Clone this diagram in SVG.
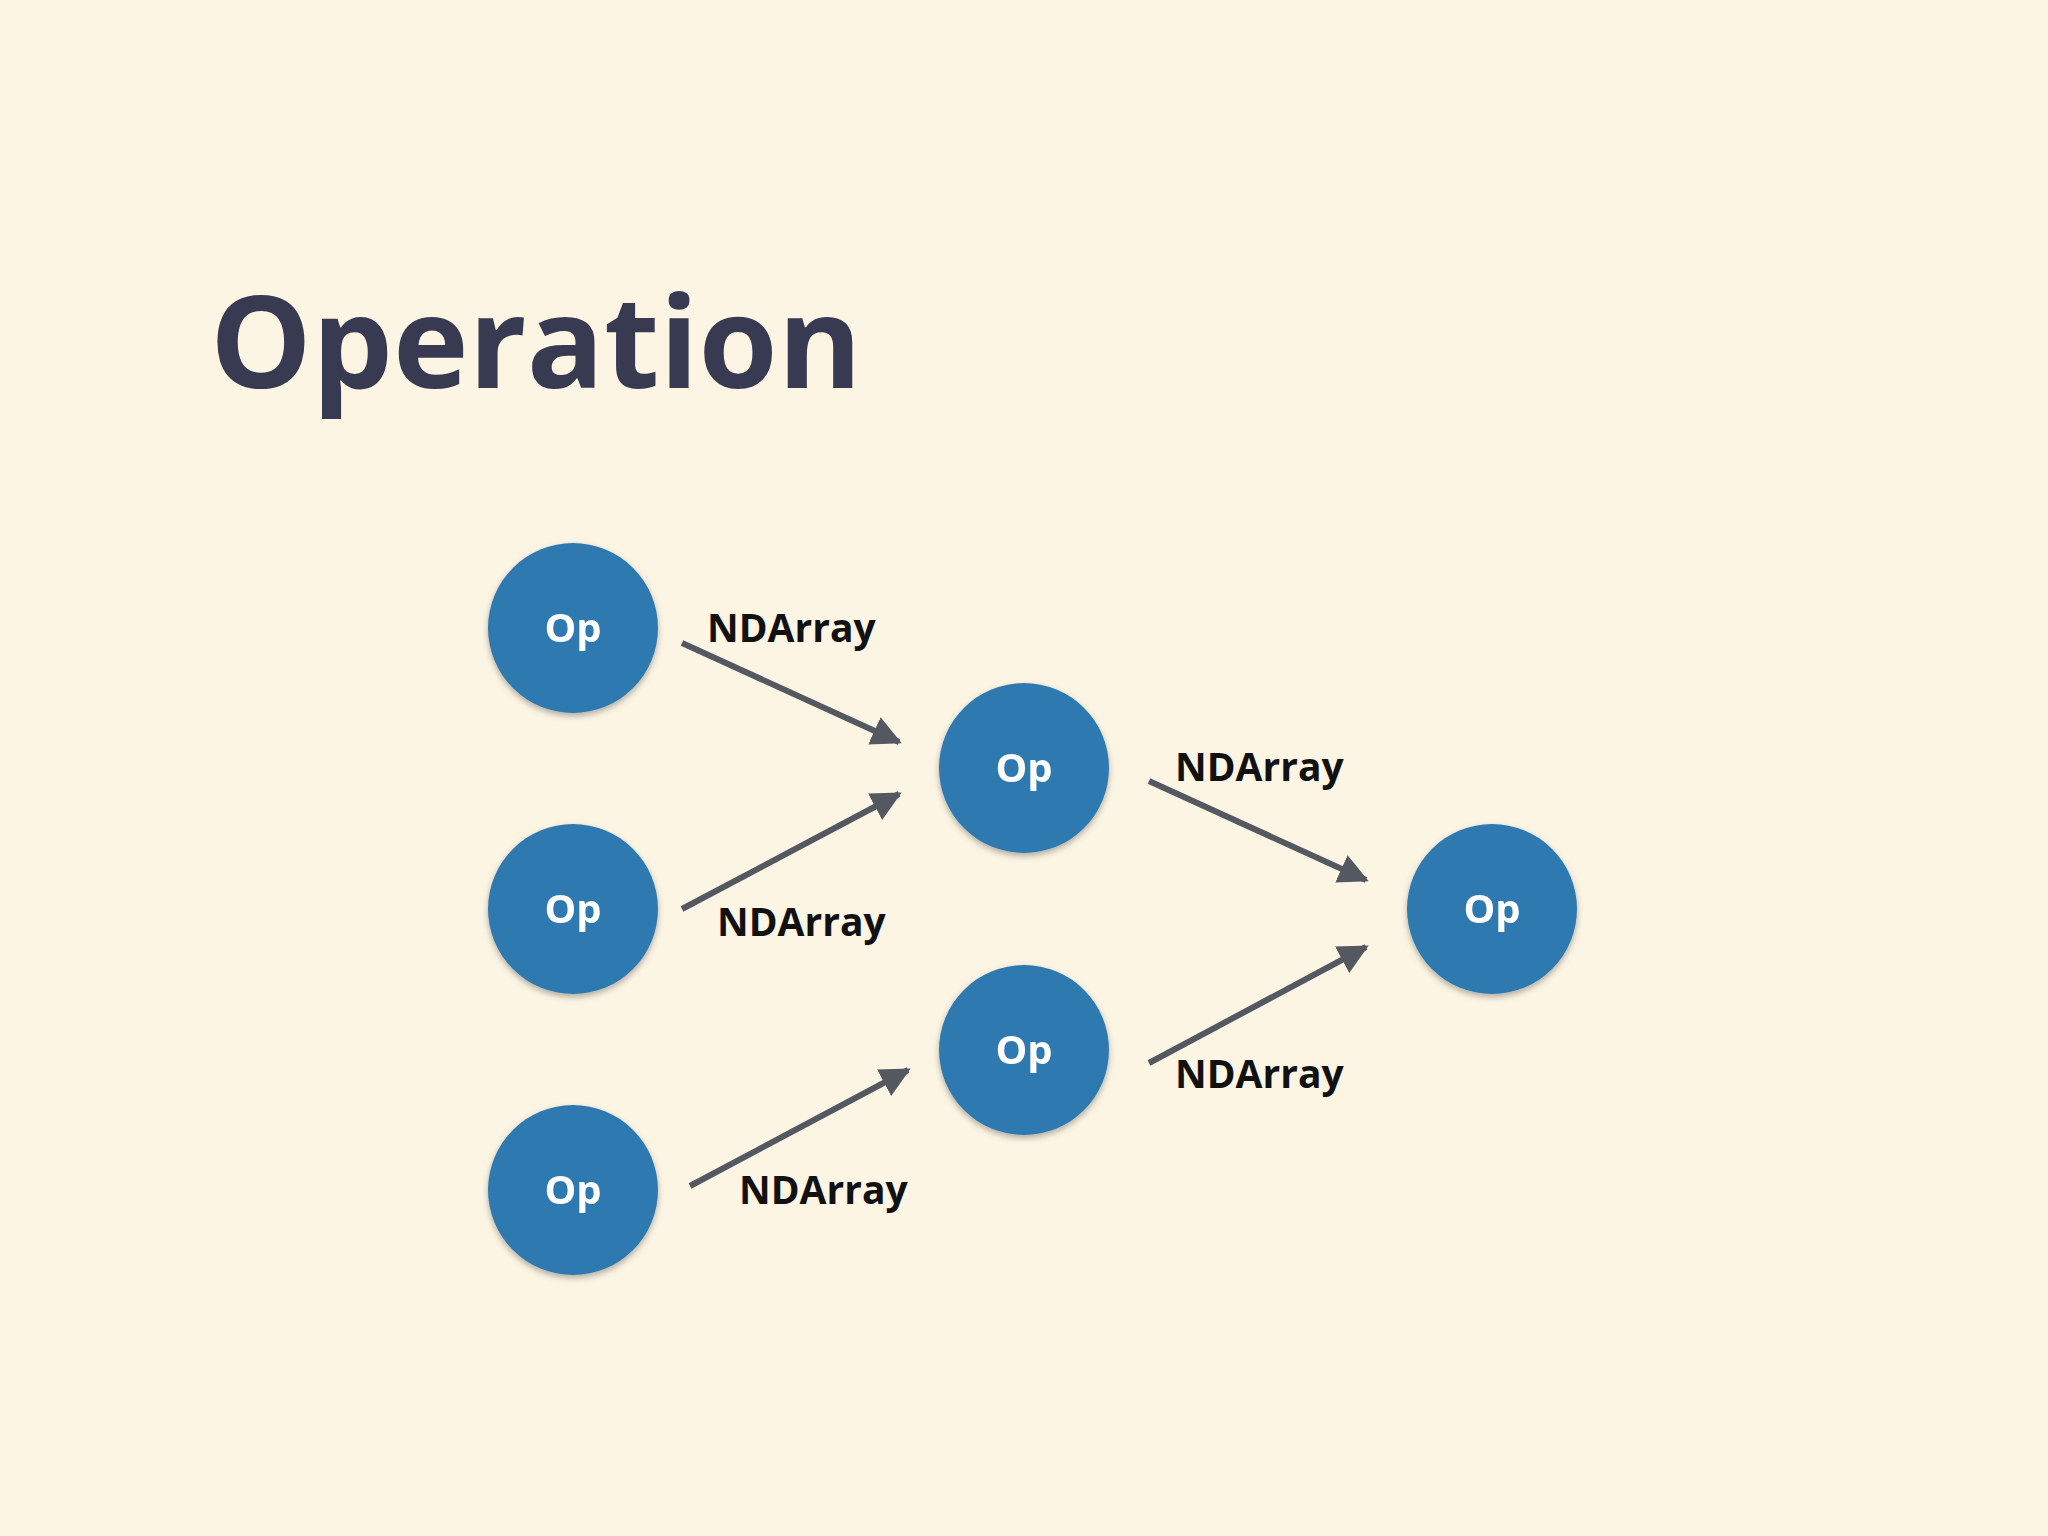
<svg xmlns="http://www.w3.org/2000/svg" width="2048" height="1536" viewBox="0 0 2048 1536">
<defs>
<style>
.n{fill:#2f79b0}
.op{font-family:"Open Sans","Liberation Sans",sans-serif;font-weight:bold;font-size:40px;fill:#fff;text-anchor:middle}
.lb{font-family:"Open Sans","Liberation Sans",sans-serif;font-weight:bold;font-size:39px;fill:#111}
.c{stroke:#545860;stroke-width:6;fill:none;marker-end:url(#ah)}
</style>
<marker id="ah" viewBox="0 0 10 10" refX="9" refY="5" markerWidth="5" markerHeight="5" orient="auto" markerUnits="strokeWidth"><path d="M0,0L10,5L0,10z" fill="#545860"/></marker>
<filter id="sh"><feDropShadow dx="0" dy="3" stdDeviation="3" flood-opacity="0.3"/></filter>
</defs>
<rect width="2048" height="1536" fill="#fdf5e4"/>
<text x="210" y="388" font-family="'Open Sans','Liberation Sans',sans-serif" font-weight="bold" font-size="128" fill="#383a52">Operation</text>
<g id="n1" filter="url(#sh)"><circle class="n" cx="573" cy="628" r="85"/><text class="op" x="573" y="642">Op</text></g>
<g id="n2" filter="url(#sh)"><circle class="n" cx="573" cy="909" r="85"/><text class="op" x="573" y="923">Op</text></g>
<g id="n3" filter="url(#sh)"><circle class="n" cx="573" cy="1190" r="85"/><text class="op" x="573" y="1204">Op</text></g>
<g id="n4" filter="url(#sh)"><circle class="n" cx="1024" cy="768" r="85"/><text class="op" x="1024" y="782">Op</text></g>
<g id="n5" filter="url(#sh)"><circle class="n" cx="1024" cy="1050" r="85"/><text class="op" x="1024" y="1064">Op</text></g>
<g id="n6" filter="url(#sh)"><circle class="n" cx="1492" cy="909" r="85"/><text class="op" x="1492" y="923">Op</text></g>
<g id="connectors">
<line class="c" x1="682" y1="643" x2="899" y2="742"/>
<line class="c" x1="682" y1="909" x2="899" y2="794"/>
<line class="c" x1="690" y1="1186" x2="908" y2="1070"/>
<line class="c" x1="1149" y1="781" x2="1366" y2="880"/>
<line class="c" x1="1149" y1="1063" x2="1366" y2="947"/>
<text class="lb" x="707" y="642">NDArray</text>
<text class="lb" x="717" y="936">NDArray</text>
<text class="lb" x="739" y="1204">NDArray</text>
<text class="lb" x="1175" y="781">NDArray</text>
<text class="lb" x="1175" y="1088">NDArray</text>
</g>
</svg>
